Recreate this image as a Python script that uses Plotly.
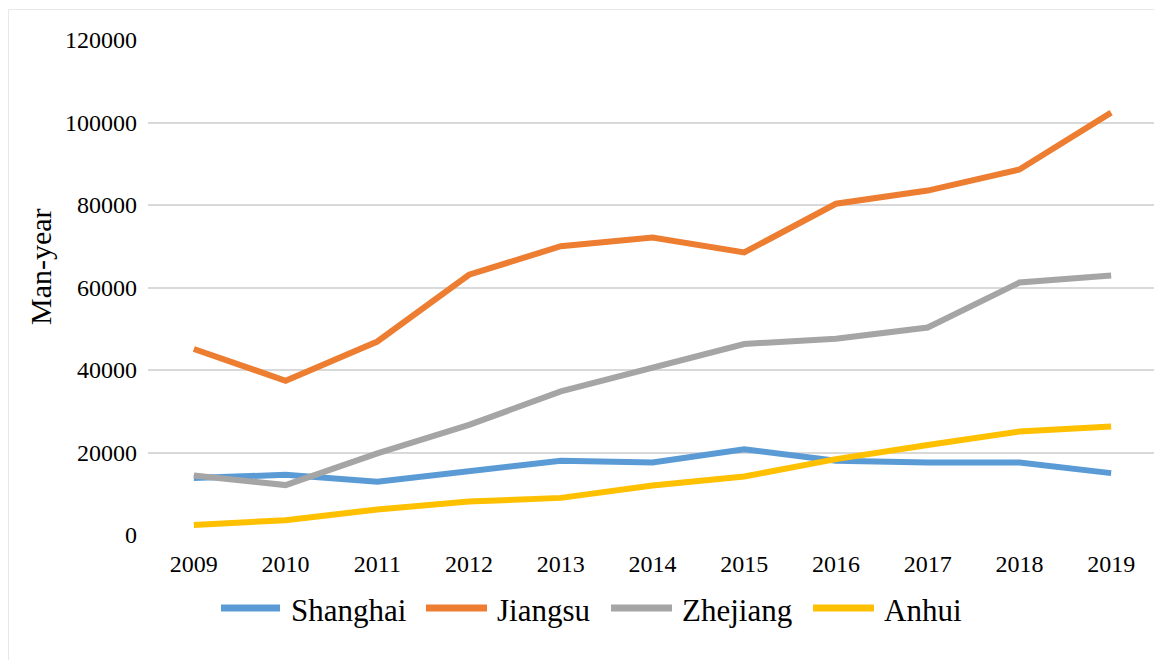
import plotly.graph_objects as go

years = ["2009", "2010", "2011", "2012", "2013", "2014", "2015", "2016", "2017", "2018", "2019"]
shanghai = [13800, 14600, 12900, 15400, 18000, 17600, 20800, 18000, 17600, 17600, 15000]
jiangsu = [45100, 37400, 46900, 63100, 70000, 72100, 68500, 80300, 83500, 88600, 102400]
zhejiang = [14400, 12100, 19800, 26700, 34800, 40400, 46300, 47600, 50300, 61200, 62900]
anhui = [2400, 3600, 6200, 8100, 9000, 12000, 14200, 18400, 21800, 25100, 26300]

series_names = ["Shanghai", "Jiangsu", "Zhejiang", "Anhui"]
series_values = [shanghai, jiangsu, zhejiang, anhui]
colors = ["#5B9BD5", "#ED7D31", "#A5A5A5", "#FFC000"]
y_ticks = [0, 20000, 40000, 60000, 80000, 100000, 120000]

OFF = 8  # page body margin
W, H = 1162 - OFF, 660 - OFF
# plot area in reference pixels: x 148..1157, y 40.5..535
L = 148 - OFF
R = W - (1157 - OFF)
T = 40 - OFF
B = H - (535 - OFF)
pw = W - L - R
ph = H - T - B

fig = go.Figure()
for name, vals, col in zip(series_names, series_values, colors):
    fig.add_trace(go.Scatter(x=years, y=vals, mode="lines", name=name,
                             line=dict(color=col, width=6), showlegend=False))

font_family = "Liberation Serif, Times New Roman, serif"

def px_x(px):
    return (px - OFF - L) / pw

def px_y(py):
    return (H - B - (py - OFF)) / ph

shapes = []
annotations = []
# manual legend
leg_items = [(218, 283, 289), (423, 490, 495), (608, 675, 680), (810, 877, 882)]
for (x0, x1, tx), name, col in zip(leg_items, series_names, colors):
    shapes.append(dict(type="line", xref="paper", yref="paper",
                       x0=px_x(x0 + 3), x1=px_x(x1 - 3), y0=px_y(608), y1=px_y(608),
                       line=dict(color=col, width=7)))
    annotations.append(dict(text=name, xref="paper", yref="paper", x=px_x(tx), y=px_y(610),
                            xanchor="left", yanchor="middle", showarrow=False,
                            font=dict(family=font_family, size=31, color="#000000")))

# outer border (only top and left edges visible in the reference)
shapes.append(dict(type="rect", xref="paper", yref="paper",
                   x0=px_x(8.5), x1=px_x(1175), y0=px_y(675), y1=px_y(9.5),
                   line=dict(color="#e8e8e8", width=1), layer="below"))

annotations.append(dict(text="Man-year", xref="paper", yref="paper", x=px_x(40), y=px_y(267),
                        textangle=-90, showarrow=False, xanchor="center", yanchor="middle",
                        font=dict(family=font_family, size=30, color="#000000")))

fig.update_layout(
    width=W, height=H,
    margin=dict(l=L, r=R, t=T, b=B, autoexpand=False),
    paper_bgcolor="white", plot_bgcolor="white",
    font=dict(family=font_family, size=24, color="#000000"),
    shapes=shapes, annotations=annotations,
    showlegend=False,
)
fig.update_xaxes(type="category", range=[-0.5, len(years) - 0.5], showgrid=False,
                 showline=False, zeroline=False, ticks="", tickfont=dict(size=24),
                 ticklabelstandoff=12)
fig.update_yaxes(range=[0, 120000], tickvals=y_ticks, ticktext=[str(v) for v in y_ticks],
                 showgrid=True, gridcolor="#d9d9d9", gridwidth=2, zeroline=False,
                 showline=False, ticks="", tickfont=dict(size=24), ticklabelstandoff=10)

fig.write_html("out.html")
